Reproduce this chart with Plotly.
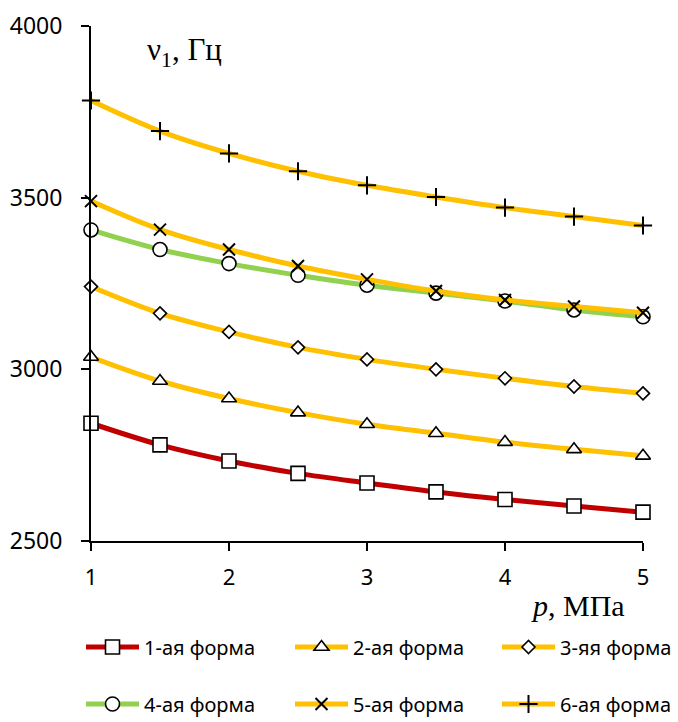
import plotly.graph_objects as go

p_values = [1, 1.5, 2, 2.5, 3, 3.5, 4, 4.5, 5]

form1 = [2843, 2780, 2733, 2697, 2669, 2643, 2621, 2602, 2584]
form2 = [3036, 2966, 2915, 2874, 2840, 2814, 2788, 2767, 2748]
form3 = [3241, 3163, 3109, 3064, 3029, 3000, 2974, 2950, 2930]
form4 = [3406, 3349, 3308, 3274, 3245, 3222, 3199, 3173, 3153]
form5 = [3490, 3407, 3349, 3301, 3262, 3228, 3202, 3183, 3165]
form6 = [3783, 3694, 3629, 3577, 3536, 3502, 3471, 3445, 3419]

names = ["1-ая форма", "2-ая форма", "3-яя форма", "4-ая форма", "5-ая форма", "6-ая форма"]
series = [form1, form2, form3, form4, form5, form6]
colors = ["#C00000", "#FFC000", "#FFC000", "#92D050", "#FFC000", "#FFC000"]
symbols = ["square", "triangle-up", "diamond", "circle", "x-thin", "cross-thin"]
sizes = [14, 13, 10, 14, 12, 13]

y_ticks = [2500, 3000, 3500, 4000]
x_ticks = [1, 2, 3, 4, 5]

# one single-entry legend per series: (left px, row centre px)
legend_cols = [81, 290, 497]
legend_rows = [647, 704]

fig = go.Figure()
legend_layout = {}
for i, (name, ys, col, sym, sz) in enumerate(zip(names, series, colors, symbols, sizes)):
    thin = sym.endswith("thin")
    lg = "legend" if i == 0 else f"legend{i + 1}"
    fig.add_trace(go.Scatter(
        x=p_values, y=ys, name=name, mode="lines+markers",
        line=dict(color=col, width=5, shape="spline"),
        marker=dict(symbol=sym, size=sz, color="white",
                    line=dict(color="black", width=2 if thin else 1.6)),
        cliponaxis=False, legend=lg, showlegend=True,
    ))
    lx = legend_cols[i % 3]
    ly = legend_rows[i // 3]
    legend_layout[lg] = dict(
        orientation="h", xref="container", yref="container",
        x=lx / 678, y=1 - ly / 722, xanchor="left", yanchor="middle",
        itemwidth=53, font=dict(size=20), bgcolor="rgba(0,0,0,0)", visible=True,
    )

fig.update_layout(
    width=678, height=722, showlegend=True,
    margin=dict(l=91, r=35, t=26, b=181),
    paper_bgcolor="white", plot_bgcolor="white",
    font=dict(family="Noto Sans", size=21, color="black"),
    xaxis=dict(range=[1, 5], tickvals=x_ticks, showgrid=False, zeroline=False,
               showline=True, linecolor="black", linewidth=2, automargin=False,
               ticks="outside", ticklen=8, tickwidth=2, tickcolor="black",
               tickfont=dict(size=22), ticklabelstandoff=8),
    yaxis=dict(range=[2500, 4000], tickvals=y_ticks, showgrid=False, zeroline=False,
               showline=True, linecolor="black", linewidth=2, automargin=False,
               ticks="outside", ticklen=8, tickwidth=2, tickcolor="black",
               tickfont=dict(size=23), ticklabelstandoff=14),
    annotations=[
        dict(text="ν<sub>1</sub>, Гц", xref="paper", yref="paper",
             x=(145-91)/552, y=(541-52)/515, xanchor="left", yanchor="middle",
             showarrow=False, font=dict(family="Liberation Serif", size=31)),
        dict(text="<i>p</i>, МПа", xref="paper", yref="paper",
             x=(627-91)/552, y=(541-605)/515, xanchor="right", yanchor="middle",
             showarrow=False, font=dict(family="Liberation Serif", size=30)),
    ],
    **legend_layout,
)

fig.write_html("out.html", config={"displayModeBar": False},
               post_script="document.body.style.margin='0';document.body.style.padding='0';")
